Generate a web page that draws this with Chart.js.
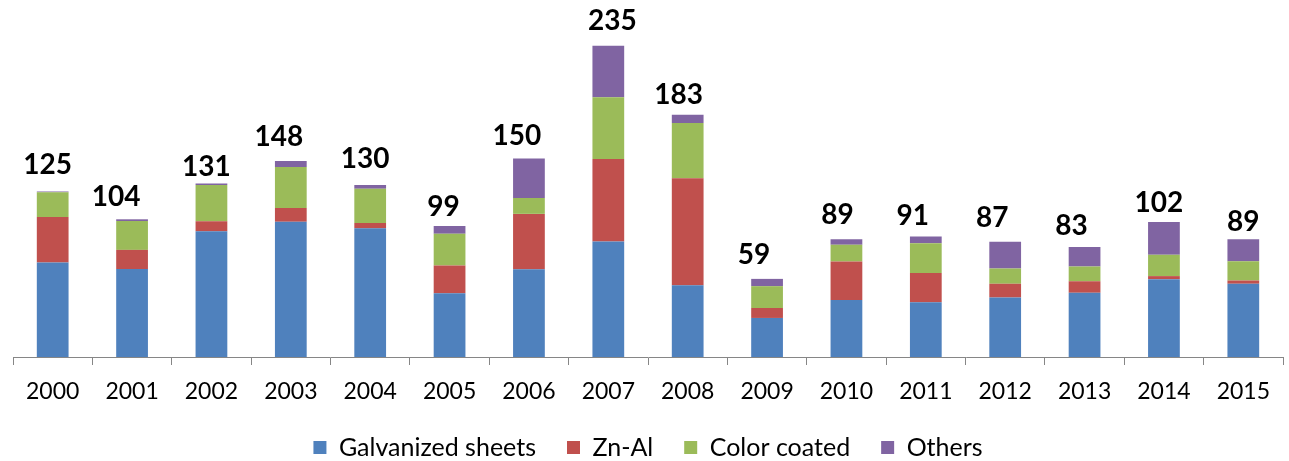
<!DOCTYPE html>
<html>
<head>
<meta charset="utf-8">
<script src="https://cdn.jsdelivr.net/npm/chart.js@4/dist/chart.umd.min.js"></script>
<style>
    html, body { margin: 0; padding: 0; background: #fff; }
    #wrap { width: 1289px; height: 461px; position: relative; }
</style>
</head>
<body>
<div id="wrap"><canvas id="chart"></canvas></div>
<script>
// 年份
const years = ['2000', '2001', '2002', '2003', '2004', '2005', '2006', '2007',
               '2008', '2009', '2010', '2011', '2012', '2013', '2014', '2015'];

// 各系列數值
const galvanized  = [71.4, 66.4, 95.0, 102.2, 97.2, 48.2, 66.2, 87.2, 54.1, 29.5, 43.0, 41.3, 45.0, 48.6, 58.8, 55.3];
const znAl        = [34.3, 14.5, 7.5, 10.3, 4.0, 20.9, 41.9, 62.4, 81.0, 7.5, 29.2, 22.2, 10.4, 8.6, 2.3, 2.5];
const colorCoated = [18.8, 21.8, 27.5, 31.0, 25.8, 23.9, 12.0, 46.6, 41.6, 16.5, 12.5, 22.5, 11.4, 11.2, 16.1, 14.6];
const others      = [0.5, 1.3, 1.0, 4.5, 3.0, 6.0, 29.9, 38.8, 6.3, 5.5, 4.3, 5.0, 20.2, 14.6, 24.8, 16.6];

// 柱頂總數標籤
const totals = [125, 104, 131, 148, 130, 99, 150, 235, 183, 59, 89, 91, 87, 83, 102, 89];

const seriesNames = ['Galvanized sheets', 'Zn-Al', 'Color coated', 'Others'];
const seriesColors = ['#4F81BD', '#C0504D', '#9BBB59', '#8064A2'];

// 標籤相對柱頂的手動微調（原圖的標籤並未完全置中）
const labelShiftX = [-5, -16, -5, -12, -5, -6, -12, 4, -9, -13, -9, -13, -13, -13, -5, 0];
const labelGap    = [18, 13, 8, 15, 17, 10, 13, 16, 11, 15, 15, 12, 15, 12, 10, 8];

const FONT = 'Lato, "Open Sans", "DejaVu Sans", sans-serif';

// 在堆疊頂部畫總數
const totalLabels = {
    id: 'totalLabels',
    afterDatasetsDraw(chart) {
        const ctx = chart.ctx;
        const topMeta = chart.getDatasetMeta(chart.data.datasets.length - 1);
        ctx.save();
        ctx.font = 'bold 28px ' + FONT;
        ctx.fillStyle = '#000';
        ctx.textAlign = 'center';
        ctx.textBaseline = 'alphabetic';
        topMeta.data.forEach((bar, i) => {
            ctx.fillText(String(totals[i]), bar.x + labelShiftX[i], bar.y - labelGap[i]);
        });
        ctx.restore();
    }
};

const datasets = [galvanized, znAl, colorCoated, others].map((values, i) => ({
    label: seriesNames[i],
    data: values,
    backgroundColor: seriesColors[i],
    borderWidth: 0,
    barPercentage: 0.4,
    categoryPercentage: 1.0
}));

new Chart(document.getElementById('chart').getContext('2d'), {
    type: 'bar',
    data: { labels: years, datasets: datasets },
    plugins: [totalLabels],
    options: {
        responsive: true,
        maintainAspectRatio: false,
        animation: false,
        layout: { padding: { left: 13, right: 6, top: 26, bottom: -9 } },
        plugins: {
            tooltip: { enabled: false },
            legend: {
                position: 'bottom',
                labels: {
                    boxWidth: 13,
                    boxHeight: 13,
                    padding: 31,
                    color: '#000',
                    font: { family: FONT, size: 25 }
                }
            }
        },
        scales: {
            x: {
                stacked: true,
                afterFit(scale) { scale.height = 47; },
                grid: {
                    display: true,
                    drawOnChartArea: false,
                    drawTicks: true,
                    tickLength: 8,
                    color: '#868686',
                    offset: true
                },
                border: { color: '#868686', width: 1 },
                ticks: {
                    color: '#000',
                    padding: 13,
                    maxRotation: 0,
                    font: { family: FONT, size: 23 }
                }
            },
            y: {
                stacked: true,
                display: false,
                min: 0,
                max: 250
            }
        }
    }
});
</script>
</body>
</html>
